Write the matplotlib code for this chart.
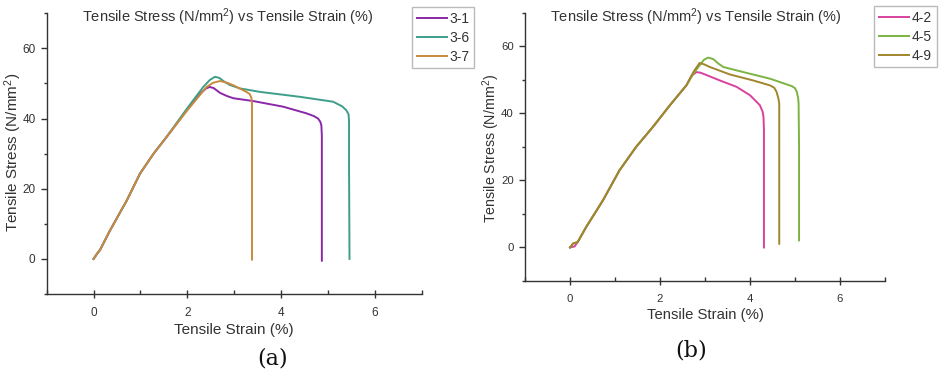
import matplotlib
matplotlib.use("Agg")
import matplotlib.pyplot as plt
from matplotlib.ticker import MultipleLocator

# ---------------- data ----------------
labels_a = ["3-1", "3-6", "3-7"]
colors_a = ["#8a28a8", "#3e9e8a", "#c98a3e"]

x_31 = [0, 0.07, 0.14, 0.35, 0.71, 0.99, 1.28, 1.56, 1.99, 2.27, 2.40, 2.48, 2.56, 2.70, 2.85, 2.98, 3.40, 4.04, 4.54, 4.70, 4.79, 4.84, 4.86, 4.87, 4.87, 4.87]
y_31 = [0, 1.4, 2.6, 8.1, 16.7, 24.3, 30.0, 34.8, 42.4, 47.0, 48.6, 49.0, 48.7, 47.3, 46.4, 45.8, 45.0, 43.4, 41.5, 40.7, 40.0, 39.0, 38.0, 35.0, 26.0, -0.5]

x_36 = [0, 0.07, 0.14, 0.35, 0.71, 0.99, 1.28, 1.56, 1.99, 2.34, 2.48, 2.59, 2.68, 2.78, 2.90, 3.12, 3.55, 4.40, 5.11, 5.30, 5.39, 5.44, 5.45, 5.45, 5.46]
y_36 = [0, 1.4, 2.6, 8.1, 16.7, 24.3, 30.0, 34.8, 42.8, 49.0, 51.0, 51.9, 51.6, 50.6, 49.6, 48.6, 47.6, 46.2, 44.8, 43.5, 42.4, 41.2, 39.0, 26.0, 0.0]

x_37 = [0, 0.07, 0.14, 0.35, 0.71, 0.99, 1.28, 1.56, 1.99, 2.41, 2.55, 2.70, 2.85, 2.98, 3.26, 3.33, 3.37, 3.38, 3.38]
y_37 = [0, 1.4, 2.6, 8.1, 16.7, 24.3, 30.0, 34.8, 42.2, 49.0, 50.2, 50.7, 50.2, 49.5, 47.6, 47.0, 45.8, 44.3, -0.2]

labels_b = ["4-2", "4-5", "4-9"]
colors_b = ["#d8429e", "#7cb342", "#a0862c"]

x_42 = [0, 0.10, 0.17, 0.36, 0.73, 1.10, 1.47, 1.84, 2.22, 2.59, 2.70, 2.81, 2.90, 2.96, 3.33, 3.70, 4.00, 4.22, 4.28, 4.30, 4.31, 4.31]
y_42 = [0, 0.3, 1.6, 6.1, 14.0, 23.0, 30.0, 35.9, 42.4, 48.4, 51.2, 52.3, 52.1, 51.8, 49.8, 47.9, 45.4, 42.4, 40.5, 38.9, 35.0, 0.0]

x_45 = [0, 0.07, 0.17, 0.36, 0.73, 1.10, 1.47, 1.84, 2.22, 2.59, 2.75, 2.88, 2.98, 3.07, 3.18, 3.30, 3.41, 3.85, 4.45, 4.93, 5.00, 5.04, 5.07, 5.08, 5.09, 5.09]
y_45 = [0, 1.2, 1.6, 6.1, 14.0, 23.0, 30.0, 35.9, 42.4, 48.4, 52.0, 54.3, 56.0, 56.6, 56.2, 54.8, 53.8, 52.3, 50.3, 48.1, 47.5, 46.4, 44.5, 42.9, 30.0, 2.1]

x_49 = [0, 0.07, 0.17, 0.36, 0.73, 1.10, 1.47, 1.84, 2.22, 2.59, 2.75, 2.88, 2.98, 3.11, 3.55, 4.07, 4.45, 4.54, 4.59, 4.63, 4.65, 4.65]
y_49 = [0, 1.2, 1.6, 6.1, 14.0, 23.0, 30.0, 35.9, 42.4, 48.4, 52.5, 55.0, 54.6, 53.8, 51.6, 49.8, 48.3, 47.6, 46.4, 44.5, 42.9, 1.1]

title_text = "Tensile Stress (N/mm$^2$) vs Tensile Strain (%)"
xlabel_text = "Tensile Strain (%)"
ylabel_text = "Tensile Stress (N/mm$^2$)"
x_ticks = [0, 2, 4, 6]
y_ticks = [0, 20, 40, 60]

# ---------------- figure ----------------
plt.rcParams['font.family'] = ['Liberation Sans', 'DejaVu Sans']
plt.rcParams['mathtext.fontset'] = 'custom'
plt.rcParams['mathtext.rm'] = 'Liberation Sans'
plt.rcParams['mathtext.it'] = 'Liberation Sans:italic'
plt.rcParams['mathtext.bf'] = 'Liberation Sans:bold'
fig = plt.figure(figsize=(9.39, 3.74), dpi=100)

W, H = 939.0, 374.0
def frac_box(l, t, r, b):
    return [l / W, 1 - b / H, (r - l) / W, (b - t) / H]

ax_a = fig.add_axes(frac_box(46.7, 13.3, 421.7, 294))
ax_b = fig.add_axes(frac_box(525, 12.7, 885, 281))

TXT = '#333333'

def style(ax, fs):
    ax.set_xlim(-1, 7)
    ax.set_ylim(-10, 70)
    ax.spines['top'].set_visible(False)
    ax.spines['right'].set_visible(False)
    for s in ('left', 'bottom'):
        ax.spines[s].set_color('#333333')
        ax.spines[s].set_linewidth(1.0)
    ax.set_xticks(x_ticks)
    ax.set_yticks(y_ticks)
    ax.xaxis.set_minor_locator(MultipleLocator(1))
    ax.yaxis.set_minor_locator(MultipleLocator(10))
    ax.tick_params(axis='x', which='major', direction='inout', length=6, width=1, labelsize=fs, colors=TXT, pad=6)
    ax.tick_params(axis='x', which='minor', direction='in', length=3, width=1, colors=TXT)
    ax.tick_params(axis='y', which='major', direction='out', length=4, width=1, labelsize=fs, colors=TXT, pad=4)
    ax.tick_params(axis='y', which='minor', direction='out', length=2, width=1, colors=TXT)
    ax.patch.set_alpha(0)

lw = 1.4
for xs, ys, c, lab in zip([x_31, x_36, x_37], [y_31, y_36, y_37], colors_a, labels_a):
    ax_a.plot(xs, ys, color=c, lw=lw, label=lab, solid_joinstyle='round')
for xs, ys, c, lab in zip([x_42, x_45, x_49], [y_42, y_45, y_49], colors_b, labels_b):
    ax_b.plot(xs, ys, color=c, lw=lw, label=lab, solid_joinstyle='round')

style(ax_a, 8.5)
style(ax_b, 8.2)

# titles (inside the top of axes)
fig.text(227.5 / W, 1 - 17 / H, title_text, ha='center', va='center', fontsize=10.5, color=TXT)
fig.text(695.5 / W, 1 - 17 / H, title_text, ha='center', va='center', fontsize=10.5, color=TXT)

# axis labels
fig.text(234 / W, 1 - 330 / H, xlabel_text, ha='center', va='center', fontsize=11, color=TXT)
fig.text(705.5 / W, 1 - 315 / H, xlabel_text, ha='center', va='center', fontsize=10.7, color=TXT)
fig.text(13 / W, 1 - 152 / H, ylabel_text, ha='center', va='center', rotation=90, fontsize=11, color=TXT)
fig.text(491 / W, 1 - 148 / H, ylabel_text, ha='center', va='center', rotation=90, fontsize=10.3, color=TXT)

# panel letters
fig.text(273 / W, 1 - 358 / H, "(a)", ha='center', va='center', fontsize=16, family='DejaVu Serif', color='#111111')
fig.text(691 / W, 1 - 350 / H, "(b)", ha='center', va='center', fontsize=16, family='DejaVu Serif', color='#111111')

# legends
for ax, anchor in ((ax_a, (412 / W, 1 - 7 / H)), (ax_b, (874 / W, 1 - 6 / H))):
    leg = ax.legend(loc='upper left', bbox_to_anchor=anchor, bbox_transform=fig.transFigure,
                    fontsize=10, frameon=True, fancybox=False, handlelength=2.2, handletextpad=0.15,
                    labelspacing=0.35, borderpad=0.35, borderaxespad=0)
    leg.get_frame().set_edgecolor('#aaaaaa')
    leg.get_frame().set_linewidth(1.0)
    for t in leg.get_texts():
        t.set_color(TXT)

fig.savefig("out.png", dpi=100)
